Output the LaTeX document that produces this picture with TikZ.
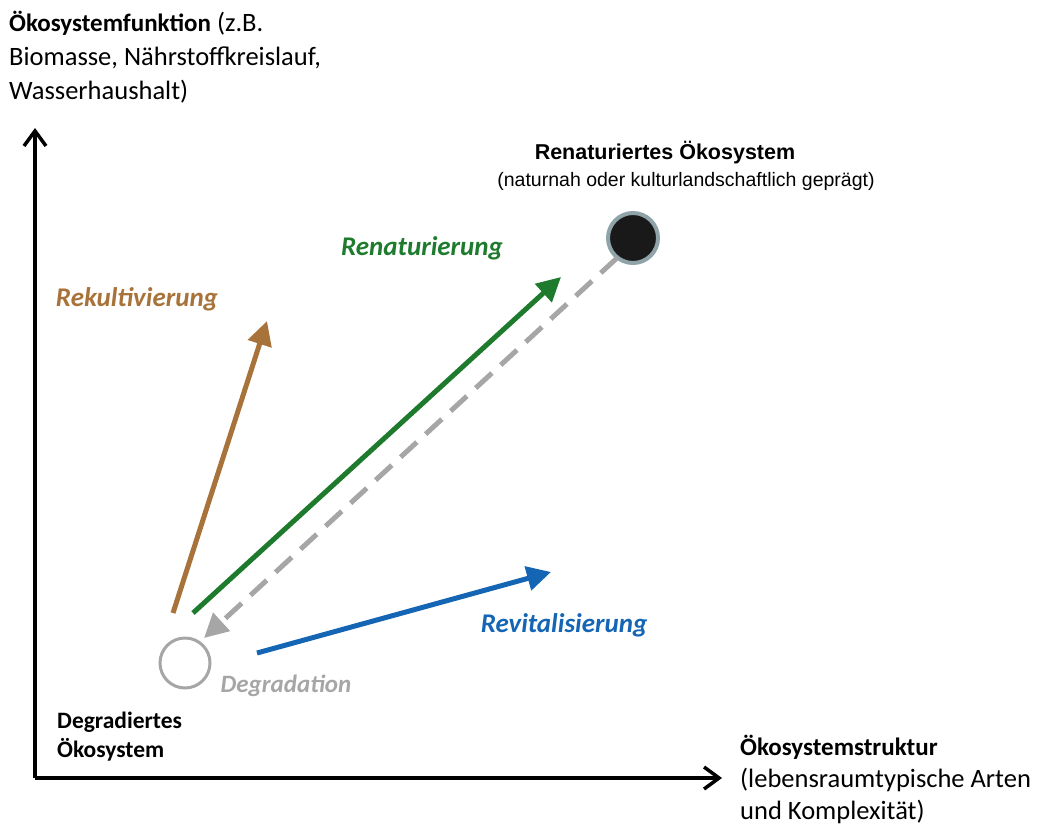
\documentclass[tikz,border=0pt]{standalone}
\usepackage{fontspec}
\setmainfont{Carlito}
\newfontfamily\arialfont{Liberation Sans}
\usepackage{tikz}
\usetikzlibrary{positioning,arrows.meta}
\definecolor{rekult}{HTML}{A8733A}
\definecolor{renat}{HTML}{1E7B2E}
\definecolor{revit}{HTML}{1565B5}
\definecolor{degrad}{HTML}{A6A6A6}
\definecolor{ringblue}{HTML}{8FA3A8}
\tikzset{
  axis/.style={line width=4.5pt, -{Straight Barb[length=15pt,width=22pt,line width=3.5pt]}},
  pfeil/.style={line width=5pt, -{Triangle[length=24pt,width=24pt]}},
  lbl/.style={font=\fontsize{27}{32}\selectfont\bfseries\itshape, inner sep=0pt},
  axlbl/.style={font=\fontsize{26.5}{34}\selectfont, align=left, inner sep=0pt}
}
\newcommand{\axbold}[1]{{\fontsize{25}{33}\selectfont\bfseries #1}}

\begin{document}
\begin{tikzpicture}[x=1pt,y=-1pt]
  \useasboundingbox (0,0) rectangle (1039,825);

  % Achsen
  \coordinate (o) at (35,778);
  \coordinate (ytip) at (35,128);
  \coordinate (xtip) at (722,778);
  \draw[axis] (o) -- (ytip);
  \draw[axis] (o) -- (xtip);

  \node[axlbl, anchor=north west] (ylab) at (9,11) {\axbold{Ökosystemfunktion} (z.B.\\Biomasse, Nährstoffkreislauf,\\Wasserhaushalt)};
  \node[axlbl, font=\fontsize{26.5}{32}\selectfont, anchor=north west] (xlab) at (740,735) {\axbold{Ökosystemstruktur}\\(lebensraumtypische Arten\\und Komplexität)};

  % Zustände
  \node[circle, draw=degrad, line width=3pt, minimum size=50pt, inner sep=0pt] (deg) at (185,663) {};
  \node[circle, draw=ringblue, fill=black!90, line width=4pt, minimum size=50pt, inner sep=0pt] (ren) at (633,238) {};

  \node[axlbl, font=\fontsize{23.5}{29}\selectfont\bfseries, anchor=north west] (degtxt) at (57,712) {Degradiertes\\Ökosystem};
  \node[font=\arialfont\fontsize{21.5}{27}\selectfont\bfseries, inner sep=0pt] (rentxt) at (665,153) {Renaturiertes Ökosystem};
  \node[font=\arialfont\fontsize{19.5}{27}\selectfont, inner sep=0pt] (rensub) at (686,181) {(naturnah oder kulturlandschaftlich geprägt)};

  % Pfeile
  \coordinate (a1) at (173,613);
  \coordinate (a2) at (193,613);
  \coordinate (a3) at (257,653);
  \coordinate (rektip) at (267,321);
  \coordinate (rentip) at (561,277);
  \coordinate (revtip) at (551,572);
  \coordinate (degtip) at (204,638);
  \coordinate (b1) at (617,258);

  \draw[pfeil, rekult] (a1) -- (rektip);
  \draw[pfeil, renat] (a2) -- (rentip);
  \draw[pfeil, revit] (a3) -- (revtip);
  \draw[pfeil, degrad, dash pattern=on 22pt off 12pt] (b1) -- (degtip);

  \node[lbl, rekult] (rektxt) at (137,299) {Rekultivierung};
  \node[lbl, renat] (rentxt2) at (422,248) {Renaturierung};
  \node[lbl, revit] (revtxt) at (564,625) {Revitalisierung};
  \node[lbl, degrad, font=\fontsize{25}{30}\selectfont\bfseries\itshape] (degtxt2) at (286,686) {Degradation};
\end{tikzpicture}
\end{document}
